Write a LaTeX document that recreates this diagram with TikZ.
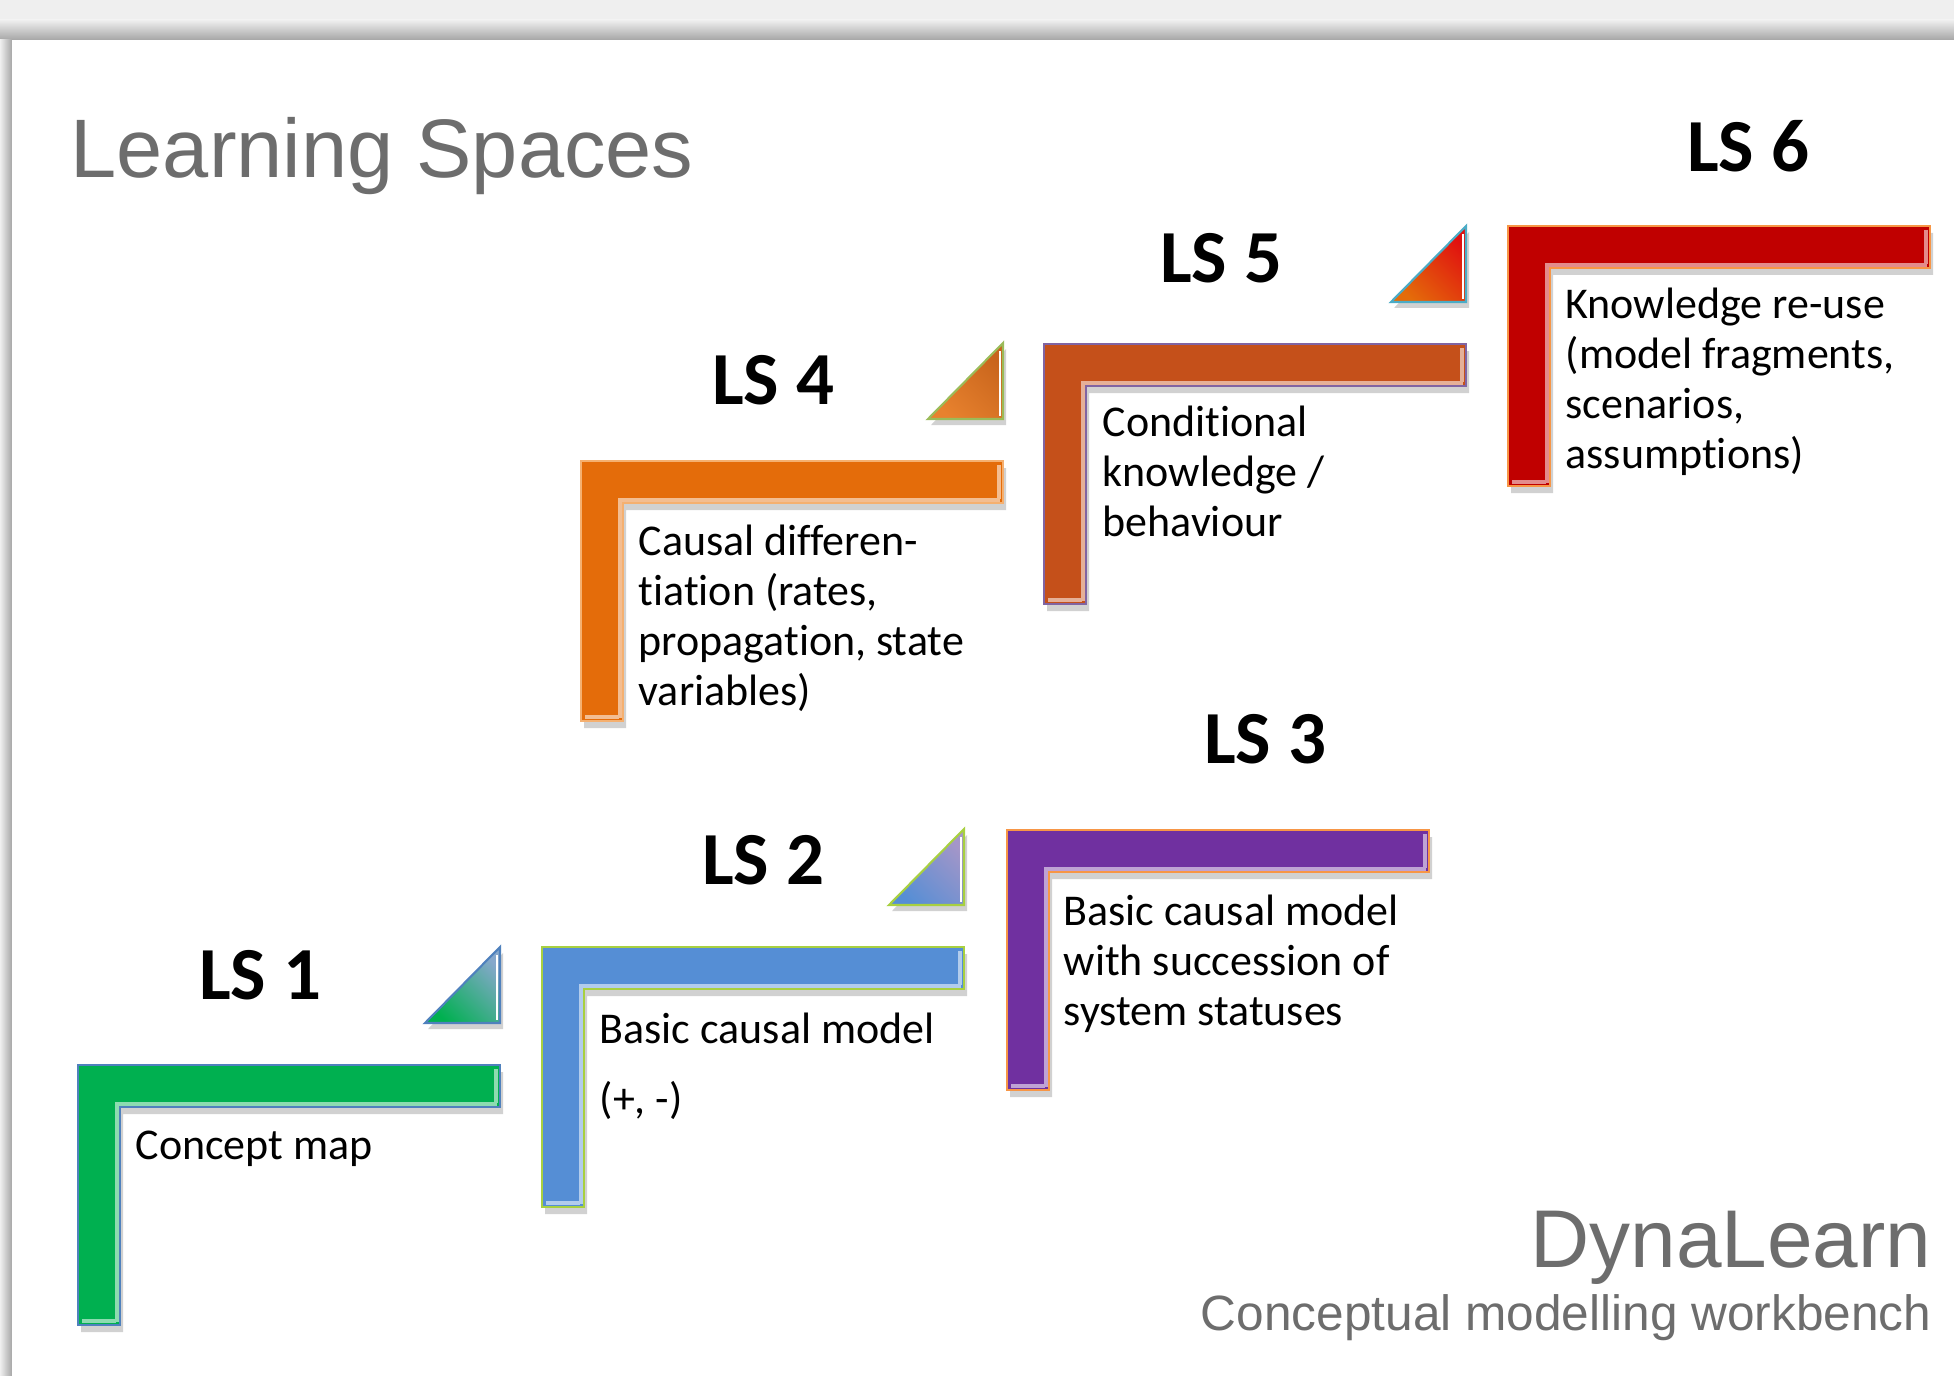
\documentclass[tikz,border=0pt]{standalone}
\usepackage{fontspec}
\setmainfont[Ligatures=NoCommon]{Carlito}
\newfontfamily\arialfont{Liberation Sans}
\definecolor{bggrey}{HTML}{EFEFEF}
\definecolor{titlegrey}{HTML}{6D6D6D}
\definecolor{lsgreen}{HTML}{00B050}
\definecolor{lsblue}{HTML}{558ED5}
\definecolor{lspurple}{HTML}{7030A0}
\definecolor{lsorange}{HTML}{E46C0A}
\definecolor{lsrust}{HTML}{C5501A}
\definecolor{lsred}{HTML}{C00000}
\definecolor{edgeblue}{HTML}{4F81BD}
\definecolor{edgelime}{HTML}{A8D040}
\definecolor{edgeorange}{HTML}{F79646}
\definecolor{edgegold}{HTML}{F5B070}
\definecolor{edgeviolet}{HTML}{8064A2}
\definecolor{edgeteal}{HTML}{4BACC6}
\definecolor{edgeolive}{HTML}{9BBB59}
\definecolor{tribluegrey}{HTML}{86A8CC}
\definecolor{trililac}{HTML}{A596C8}
\definecolor{triorange}{HTML}{E8822E}
\definecolor{tribrown}{HTML}{C8641C}
\definecolor{trired}{HTML}{E01010}
\tikzset{
  lsnum/.style={font=\fontsize{21.3}{24}\selectfont\bfseries, inner sep=0pt},
  lstext/.style={font=\fontsize{12.5}{14.2}\selectfont, align=left, anchor=base west, inner sep=0pt},
  greytext/.style={text=titlegrey, inner sep=0pt}
}
\begin{document}
\begin{tikzpicture}[x=0.01cm, y=-0.01cm]
    % slide background
    \useasboundingbox (0,0) rectangle (1954,1376);
    \fill[bggrey] (0,0) rectangle (1954,1376);
    \shade[top color=bggrey, bottom color=black!35] (0,20) rectangle (1954,40);
    \shade[left color=bggrey, right color=black!35] (0,40) rectangle (12,1376);
    \fill[white] (12,40) rectangle (1954,1376);
    % the six steps
    \foreach \x/\y/\fc/\ec in {78/1065/lsgreen/edgeblue, 542/947/lsblue/edgelime, 1007/830/lspurple/edgeorange, 581/461/lsorange/edgegold, 1044/344/lsrust/edgeviolet, 1508/226/lsred/edgeorange}{
        \fill[black, opacity=.18] (\x+3,\y+7) -- ++(422,0) -- ++(0,42) -- ++(-380,0) -- ++(0,218) -- ++(-42,0) -- cycle;
        \fill[\fc, draw=\ec, line width=.6pt] (\x,\y) -- ++(422,0) -- ++(0,42) -- ++(-380,0) -- ++(0,218) -- ++(-42,0) -- cycle;
        \draw[\fc!45!white, line width=1.2pt] (\x+39,\y+257) -- (\x+39,\y+39) -- (\x+419,\y+39);
        \draw[\fc!45!white, line width=1.2pt] (\x+418,\y+4) -- (\x+418,\y+38);
        \draw[\fc!45!white, line width=1.2pt] (\x+4,\y+256) -- (\x+38,\y+256);
    }
    % small triangles
    \foreach \x/\y/\fc/\tc/\ec in {78/1065/lsgreen/tribluegrey/edgeblue, 542/947/lsblue/trililac/edgelime, 581/461/triorange/tribrown/edgeolive, 1044/344/lsorange/trired/edgeteal}{
        \fill[black, opacity=.18] (\x+350,\y-36) -- (\x+425,\y-36) -- (\x+425,\y-112) -- cycle;
        \shade[bottom color=\fc, top color=\tc, shading angle=-45, draw=\ec, line width=.6pt] (\x+347,\y-42) -- (\x+422,\y-42) -- (\x+422,\y-118) -- cycle;
        \draw[white, line width=.8pt] (\x+419,\y-110) -- (\x+419,\y-45);
    }
    % labels
    \node[lsnum] (ls1) at (260,975) {LS 1};
    \node[lsnum] (ls2) at (763,860) {LS 2};
    \node[lsnum] (ls3) at (1265,739) {LS 3};
    \node[lsnum] (ls4) at (773,380) {LS 4};
    \node[lsnum] (ls5) at (1221,258) {LS 5};
    \node[lsnum] (ls6) at (1748,146) {LS 6};
    % texts, placed at the baseline of their last line
    \node[lstext] (txt1) at (135,1159) {Concept map};
    \node[lstext] (txt2) at (599,1113) {Basic causal model\\[5.5pt](+, -)};
    \node[lstext] (txt3) at (1063,1025) {Basic causal model\\with succession of\\system statuses};
    \node[lstext] (txt4) at (638,705) {Causal differen-\\tiation (rates,\\propagation, state\\variables)};
    \node[lstext] (txt5) at (1102,536) {Conditional\\knowledge /\\behaviour};
    \node[lstext] (txt6) at (1565,468) {Knowledge re-use\\(model fragments,\\scenarios,\\assumptions)};
    % titles
    \node[greytext, font=\arialfont\fontsize{23.6}{26}\selectfont, anchor=base west] (title) at (70,178) {Learning Spaces};
    \node[greytext, font=\arialfont\fontsize{23.3}{26}\selectfont, anchor=base east] (brand) at (1932,1267) {DynaLearn};
    \node[greytext, font=\arialfont\fontsize{14.1}{16}\selectfont, anchor=base east] (tagline) at (1932,1330) {Conceptual modelling workbench};
\end{tikzpicture}
\end{document}
